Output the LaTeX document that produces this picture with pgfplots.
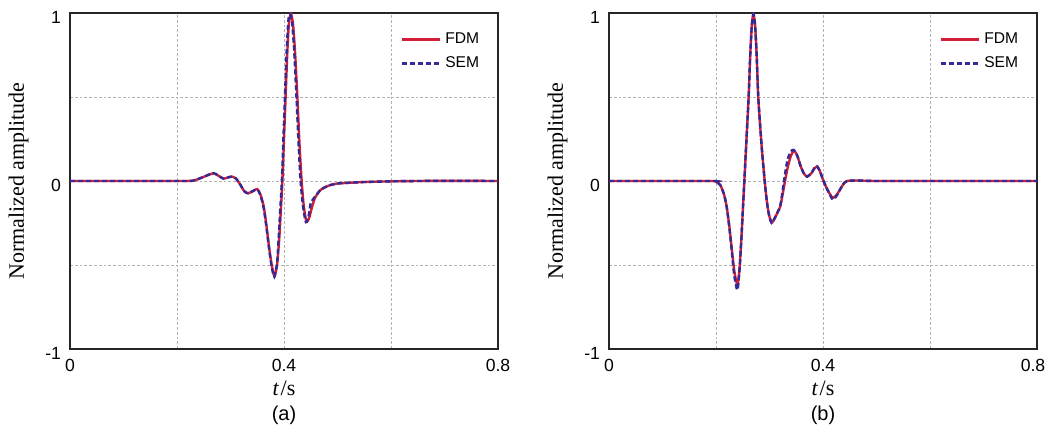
\documentclass[border=0pt]{standalone}
\usepackage{pgfplots}
\pgfplotsset{compat=1.18}
\usepackage{fontspec}
\setmainfont{Liberation Sans}
\newfontfamily\timesfont{Liberation Serif}
\definecolor{fdmred}{RGB}{212,30,55}
\definecolor{semblue}{RGB}{52,42,150}

\pgfplotstableread{
t v
0 0
0.1 0
0.2 0.0
0.23 0.002
0.25 0.025
0.268 0.046
0.278 0.030
0.287 0.014
0.296 0.022
0.303 0.026
0.310 0.015
0.318 -0.020
0.326 -0.062
0.333 -0.073
0.342 -0.060
0.350 -0.048
0.356 -0.080
0.362 -0.150
0.367 -0.260
0.372 -0.390
0.377 -0.500
0.382 -0.565
0.387 -0.500
0.391 -0.350
0.394 -0.180
0.397 0.0
0.400 0.25
0.403 0.50
0.406 0.75
0.409 0.93
0.413 0.994
0.417 0.93
0.421 0.75
0.425 0.50
0.429 0.22
0.433 0.0
0.437 -0.15
0.442 -0.242
0.447 -0.22
0.452 -0.16
0.458 -0.10
0.468 -0.054
0.478 -0.035
0.487 -0.024
0.500 -0.015
0.525 -0.010
0.550 -0.006
0.600 -0.002
0.650 0.0
0.700 0.001
0.800 0.0
}\fdmA

\pgfplotstableread{
t v
0 0
0.1 0
0.2 0.0
0.23 0.002
0.25 0.025
0.268 0.047
0.278 0.030
0.287 0.014
0.296 0.022
0.303 0.026
0.310 0.015
0.318 -0.020
0.326 -0.062
0.333 -0.073
0.342 -0.060
0.350 -0.050
0.356 -0.085
0.362 -0.160
0.367 -0.270
0.372 -0.400
0.377 -0.510
0.382 -0.570
0.387 -0.490
0.390 -0.340
0.393 -0.170
0.396 0.0
0.399 0.26
0.402 0.52
0.405 0.77
0.408 0.95
0.411 0.994
0.415 0.95
0.419 0.78
0.423 0.52
0.427 0.24
0.431 0.0
0.436 -0.16
0.441 -0.245
0.446 -0.21
0.450 -0.13
0.454 -0.11
0.460 -0.085
0.468 -0.054
0.478 -0.035
0.487 -0.024
0.500 -0.015
0.525 -0.010
0.550 -0.006
0.600 -0.002
0.650 0.0
0.700 0.001
0.800 0.0
}\semA

\pgfplotstableread{
t v
0 0
0.19 0.0
0.200 -0.005
0.208 -0.024
0.215 -0.080
0.220 -0.153
0.225 -0.270
0.229 -0.390
0.234 -0.530
0.240 -0.619
0.244 -0.520
0.248 -0.310
0.251 -0.120
0.253 0.0
0.257 0.25
0.261 0.50
0.264 0.75
0.267 0.93
0.270 0.994
0.273 0.93
0.276 0.75
0.279 0.50
0.285 0.22
0.291 0.0
0.295 -0.12
0.299 -0.20
0.304 -0.248
0.310 -0.22
0.316 -0.18
0.320 -0.153
0.324 -0.09
0.329 0.0
0.334 0.08
0.340 0.15
0.346 0.18
0.352 0.15
0.358 0.09
0.364 0.046
0.370 0.026
0.378 0.045
0.384 0.075
0.389 0.085
0.394 0.06
0.401 0.0
0.408 -0.05
0.418 -0.100
0.425 -0.085
0.432 -0.050
0.440 -0.010
0.445 0.0
0.460 0.003
0.500 0.0
0.600 0.0
0.800 0.0
}\fdmB

\pgfplotstableread{
t v
0 0
0.19 0.0
0.200 -0.005
0.208 -0.024
0.215 -0.080
0.220 -0.155
0.225 -0.280
0.229 -0.400
0.234 -0.560
0.240 -0.649
0.244 -0.530
0.248 -0.310
0.251 -0.120
0.253 0.0
0.257 0.25
0.261 0.50
0.264 0.75
0.267 0.93
0.270 0.994
0.273 0.93
0.276 0.75
0.279 0.50
0.285 0.22
0.291 0.0
0.295 -0.12
0.299 -0.20
0.304 -0.250
0.310 -0.22
0.316 -0.18
0.320 -0.150
0.324 -0.07
0.329 0.04
0.334 0.13
0.340 0.175
0.345 0.185
0.352 0.15
0.358 0.09
0.364 0.046
0.370 0.026
0.378 0.045
0.384 0.078
0.389 0.088
0.394 0.06
0.401 0.0
0.408 -0.05
0.418 -0.110
0.425 -0.090
0.432 -0.050
0.440 -0.010
0.445 0.0
0.460 0.003
0.500 0.0
0.600 0.0
0.800 0.0
}\semB

\pgfplotsset{
  wave/.style={
    scale only axis,
    width=214bp, height=168bp,
    xmin=0, xmax=0.8, ymin=-1, ymax=1,
    clip mode=individual,
    xtick={0,0.4,0.8},
    minor xtick={0.2,0.6},
    ytick={-1,0,1}, yticklabels={-1,0,1},
    minor ytick={-0.5,0.5},
    grid=both,
    major grid style={gray!60, dash pattern=on 1.4bp off 1bp, line width=0.4bp},
    minor grid style={gray!60, dash pattern=on 1.4bp off 1bp, line width=0.4bp},
    major tick length=0pt, minor tick length=0pt,
    axis line style={line width=0.7bp, black!85},
    tick label style={font=\fontsize{8.8bp}{10bp}\selectfont},
    xticklabel style={yshift=-1.5bp},
    yticklabel style={yshift=-2bp, xshift=-1bp},
    xlabel={\timesfont\itshape t\upshape\kern1bp/s},
    ylabel={\timesfont Normalized amplitude},
    label style={font=\fontsize{11bp}{13bp}\selectfont},
    xlabel style={yshift=2bp},
    ylabel style={yshift=1.5bp},
    legend cell align=left,
    legend style={at={(rel axis cs:1,1)}, anchor=north east, xshift=-4bp, yshift=-5bp,
      draw=none, fill=none, font=\fontsize{7.8bp}{9bp}\selectfont, row sep=0pt,
      nodes={text height=6bp, text depth=1.5bp, inner sep=2.25bp}},
    legend image code/.code={\draw[##1] (0bp,0bp) -- (19bp,0bp);},
    fdm/.style={color=fdmred, line width=1.2bp, smooth, tension=0.4},
    sem/.style={color=semblue, line width=1.2bp, dash pattern=on 2.6bp off 1.4bp, smooth, tension=0.4},
  }
}

\begin{document}
\begin{tikzpicture}
\path[use as bounding box] (-35bp,-39.5bp) rectangle (489bp,174.5bp);
\begin{axis}[wave, at={(0bp,0bp)}, anchor=south west, xticklabels={0,0.4,0.8}]
\addplot[fdm] table[x=t,y=v] {\fdmA};
\addplot[sem] table[x=t,y=v] {\semA};
\legend{FDM, SEM}
\node[font=\fontsize{10bp}{12bp}\selectfont] at (rel axis cs:0.5,0) [yshift=-33bp] {(a)};
\end{axis}
\begin{axis}[wave, at={(269.5bp,0bp)}, anchor=south west, xticklabels={0,0.4,0.8\kern4bp}]
\addplot[fdm] table[x=t,y=v] {\fdmB};
\addplot[sem] table[x=t,y=v] {\semB};
\legend{FDM, SEM}
\node[font=\fontsize{10bp}{12bp}\selectfont] at (rel axis cs:0.5,0) [yshift=-33bp] {(b)};
\end{axis}
\end{tikzpicture}
\end{document}
